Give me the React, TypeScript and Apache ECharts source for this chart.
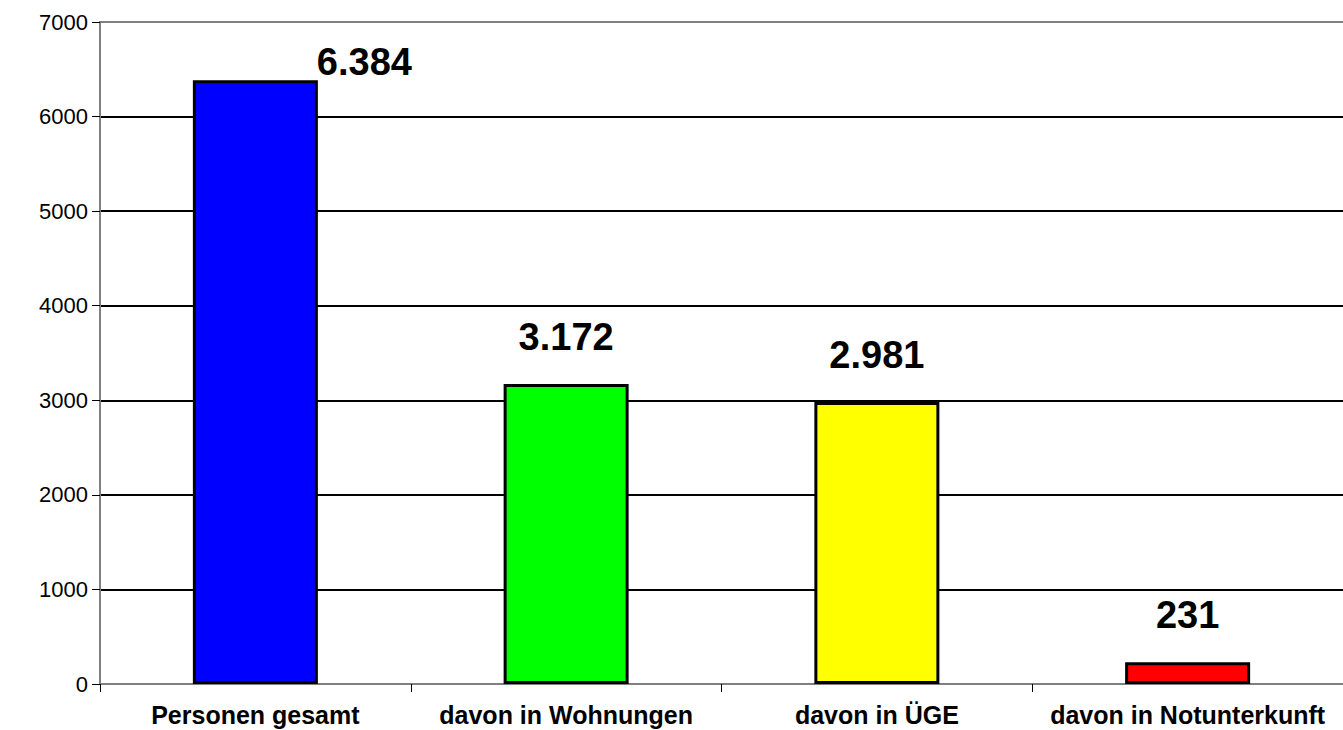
import React, { useEffect, useRef } from "react";
import * as echarts from "echarts";

const categories = ["Personen gesamt", "davon in Wohnungen", "davon in ÜGE", "davon in Notunterkunft"];
const values = [6384, 3172, 2981, 231];
const valueLabels = ["6.384", "3.172", "2.981", "231"];
const barColors = ["#0000FF", "#00FF00", "#FFFF00", "#FF0000"];
const yMax = 7000;
const yInterval = 1000;

export default function App() {
  const ref = useRef<HTMLDivElement>(null);
  useEffect(() => {
    document.body.style.margin = "0";
    const chart = echarts.init(ref.current!, null, { renderer: "svg" });
    const font = "Arial, 'Liberation Sans', sans-serif";
    chart.setOption({
      animation: false,
      backgroundColor: "#ffffff",
      grid: { left: 100, right: 0, top: 22, bottom: 46, containLabel: false },
      xAxis: [
        {
          type: "category",
          data: categories,
          axisLine: { lineStyle: { color: "#808080", width: 2 } },
          axisTick: { show: true, length: 8, lineStyle: { color: "#000", width: 1 } },
          axisLabel: {
            interval: 0,
            margin: 18,
            color: "#000",
            fontFamily: font,
            fontWeight: "bold",
            fontSize: 25,
          },
          splitLine: { show: false },
        },
        {
          type: "category",
          position: "top",
          data: categories,
          axisLine: { show: true, lineStyle: { color: "#808080", width: 2 } },
          axisTick: { show: false },
          axisLabel: { show: false },
        },
      ],
      yAxis: {
        type: "value",
        min: 0,
        max: yMax,
        interval: yInterval,
        axisLine: { show: true, lineStyle: { color: "#808080", width: 2 } },
        axisTick: { show: true, length: 8, lineStyle: { color: "#000", width: 1 } },
        axisLabel: {
          margin: 12,
          color: "#000",
          fontFamily: font,
          fontSize: 22,
          formatter: (v: number) => String(v),
        },
        splitLine: {
          show: true,
          showMaxLine: false,
          lineStyle: { color: "#000", width: 2 },
        },
      },
      series: [
        {
          type: "bar",
          barWidth: 125,
          data: values.map((v, i) => ({
            value: v,
            itemStyle: { color: barColors[i], borderColor: "#000", borderWidth: 3 },
            label: i === 0 ? { offset: [109, 29] } : {},
          })),
          label: {
            show: true,
            position: "top",
            distance: 28,
            color: "#000",
            fontFamily: font,
            fontWeight: "bold",
            fontSize: 38,
            formatter: (p: any) => valueLabels[p.dataIndex],
          },
        },
      ],
    });
    return () => chart.dispose();
  }, []);
  return <div ref={ref} style={{ width: 1343, height: 730 }} />;
}
